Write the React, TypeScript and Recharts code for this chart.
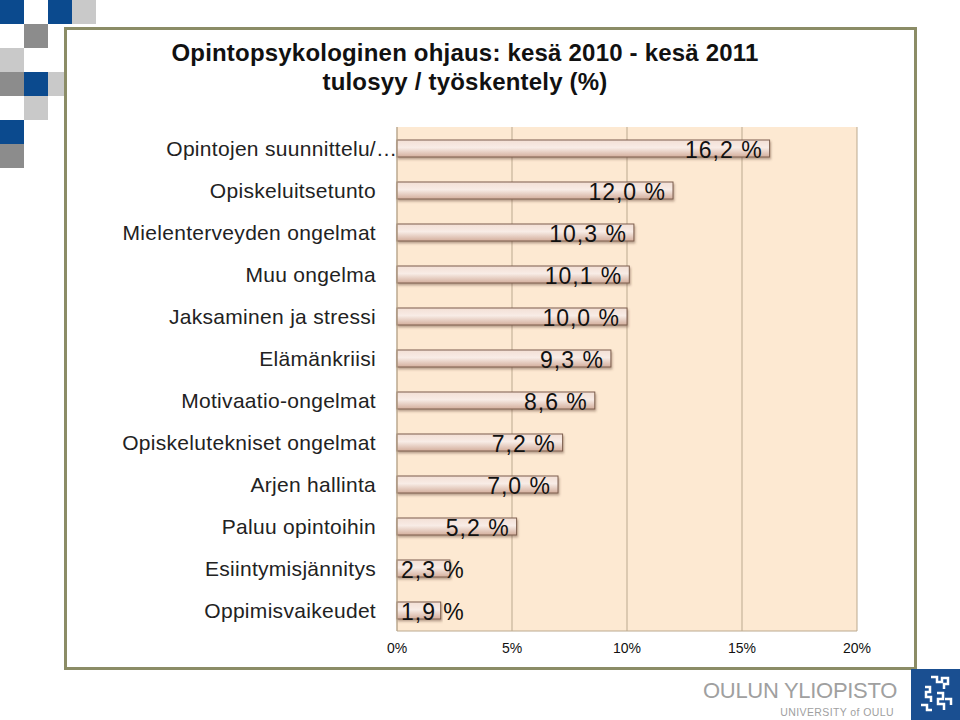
import React from "react";
import { BarChart, Bar, XAxis, YAxis, CartesianGrid, LabelList } from "recharts";

const categories = [
  "Opintojen suunnittelu/…",
  "Opiskeluitsetunto",
  "Mielenterveyden ongelmat",
  "Muu ongelma",
  "Jaksaminen ja stressi",
  "Elämänkriisi",
  "Motivaatio-ongelmat",
  "Opiskelutekniset ongelmat",
  "Arjen hallinta",
  "Paluu opintoihin",
  "Esiintymisjännitys",
  "Oppimisvaikeudet",
];
const shares = [16.2, 12.0, 10.3, 10.1, 10.0, 9.3, 8.6, 7.2, 7.0, 5.2, 2.3, 1.9];
const xTicks = [0, 5, 10, 15, 20];

const data = categories.map((name, i) => ({ name, value: shares[i] }));

// squares in the top left corner: [col, row, colour]
const squares: [number, number, string][] = [
  [0, 0, "#0b4a8e"], [2, 0, "#0b4a8e"], [3, 0, "#c9c9c9"],
  [1, 1, "#8c8c8c"],
  [0, 2, "#c9c9c9"],
  [0, 3, "#8c8c8c"], [1, 3, "#0b4a8e"], [2, 3, "#c9c9c9"],
  [1, 4, "#c9c9c9"],
  [0, 5, "#0b4a8e"],
  [0, 6, "#8c8c8c"],
];

const fmt = (v: number) => v.toFixed(1).replace(".", ",") + " %";

const LABEL_FS = 23;
const LABEL_LS = 1;

function textWidth(s: string, fs: number) {
  let w = 0;
  for (const c of s) {
    if (c === "," || c === " ") w += 0.278;
    else if (c === "%") w += 0.889;
    else w += 0.556;
  }
  return w * fs + (s.length - 1) * LABEL_LS;
}

const ValueLabel = (props: any) => {
  const { x, y, width, height, value } = props;
  const s = fmt(value);
  const end = Math.max(x + width - 7, x + 5 + textWidth(s, LABEL_FS));
  return (
    <text
      x={end}
      y={y + height / 2 + 1}
      textAnchor="end"
      dominantBaseline="central"
      fontSize={LABEL_FS}
      letterSpacing={LABEL_LS}
      fontFamily="Liberation Sans, Arial, sans-serif"
      fill="#111"
    >
      {s}
    </text>
  );
};

const CategoryTick = (props: any) => {
  const { x, y, payload } = props;
  const label: string = payload.value;
  const common = {
    fontSize: 21,
    letterSpacing: 0.3,
    fontFamily: "Liberation Sans, Arial, sans-serif",
    fill: "#222",
    dominantBaseline: "central" as const,
  };
  if (label.endsWith("…")) {
    return (
      <g>
        <text x={x - 19} y={y} textAnchor="end" {...common}>
          {label.slice(0, -1)}
        </text>
        <text x={x - 19} y={y} textAnchor="start" {...common}>
          …
        </text>
      </g>
    );
  }
  return (
    <text x={x - 19} y={y} textAnchor="end" {...common}>
      {label}
    </text>
  );
};

const BarShape = (props: any) => {
  const { x, y, width, height } = props;
  return (
    <rect
      x={x}
      y={y}
      width={width}
      height={height}
      fill="url(#barFill)"
      stroke="#7d5f4e"
      strokeWidth={1}
      filter="url(#barShadow)"
    />
  );
};

export default function App() {
  return (
    <div
      style={{
        position: "absolute",
        left: 0,
        top: 0,
        width: 960,
        height: 720,
        background: "#fff",
        overflow: "hidden",
        fontFamily: "Liberation Sans, Arial, sans-serif",
      }}
    >
      {squares.map(([c, r, col], i) => (
        <div
          key={i}
          style={{
            position: "absolute",
            left: c * 24,
            top: r * 24,
            width: 24,
            height: 24,
            background: col,
          }}
        />
      ))}

      <div
        style={{
          position: "absolute",
          left: 64,
          top: 27,
          width: 847,
          height: 637,
          border: "3px solid #8b8c66",
          background: "#fff",
        }}
      />

      <div
        style={{
          position: "absolute",
          left: 65,
          top: 38,
          width: 800,
          textAlign: "center",
          fontWeight: "bold",
          fontSize: 24,
          letterSpacing: 0.2,
          lineHeight: "29px",
          color: "#111",
        }}
      >
        Opintopsykologinen ohjaus: kesä 2010 - kesä 2011
        <br />
        tulosyy / työskentely (%)
      </div>

      <div style={{ position: "absolute", left: 65, top: 100 }}>
        <BarChart
          width={849}
          height={560}
          data={data}
          layout="vertical"
          margin={{ top: 27, right: 57, bottom: 0, left: 0 }}
          barSize={17}
        >
          <defs>
            <linearGradient id="barFill" x1="0" y1="0" x2="0" y2="1">
              <stop offset="0%" stopColor="#f3dfd5" />
              <stop offset="45%" stopColor="#f8ece6" />
              <stop offset="100%" stopColor="#d3ae9c" />
            </linearGradient>
            <filter id="barShadow" x="-5%" y="-30%" width="110%" height="180%">
              <feDropShadow dx="1" dy="2" stdDeviation="1.2" floodColor="#6b4a38" floodOpacity="0.45" />
            </filter>
          </defs>
          <CartesianGrid
            horizontal={false}
            fill="#fde9d2"
            stroke="#bba98f"
            verticalValues={xTicks}
          />
          <XAxis
            type="number"
            domain={[0, 20]}
            ticks={xTicks}
            tickFormatter={(v: number) => v + "%"}
            axisLine={{ stroke: "#bba98f" }}
            tickLine={false}
            tick={{ fontSize: 14, fill: "#111" }}
            tickMargin={6}
            height={29}
          />
          <YAxis
            type="category"
            dataKey="name"
            width={332}
            axisLine={{ stroke: "#bba98f" }}
            tickLine={false}
            tickSize={0}
            tick={<CategoryTick />}
            interval={0}
          />
          <Bar dataKey="value" shape={<BarShape />} isAnimationActive={false}>
            <LabelList dataKey="value" content={<ValueLabel />} />
          </Bar>
        </BarChart>
      </div>

      <div
        style={{
          position: "absolute",
          right: 63,
          top: 678,
          whiteSpace: "nowrap",
          color: "#a0a0a0",
          fontSize: 22,
          letterSpacing: -0.3,
          lineHeight: "26px",
        }}
      >
        OULUN YLIOPISTO
      </div>
      <div
        style={{
          position: "absolute",
          right: 66,
          top: 705,
          whiteSpace: "nowrap",
          color: "#a0a0a0",
          fontSize: 10.5,
          letterSpacing: 0.4,
          lineHeight: "14px",
        }}
      >
        UNIVERSITY of OULU
      </div>
      <svg style={{ position: "absolute", left: 911, top: 669 }} width={49} height={51}>
        <rect x={0} y={0} width={49} height={51} fill="#1a4f91" />
        <path
          d="M20 8 h6 v5 h5 v-4 h6 v6 h-4 v5 M14 18 h5 v5 h-4 v5 h5 v5 M26 24 h6 v6 h-5 v5 h6 v6 M10 36 h6 v5 h5 M34 30 h6 v6"
          fill="none"
          stroke="#fff"
          strokeWidth={2.5}
        />
      </svg>
    </div>
  );
}
